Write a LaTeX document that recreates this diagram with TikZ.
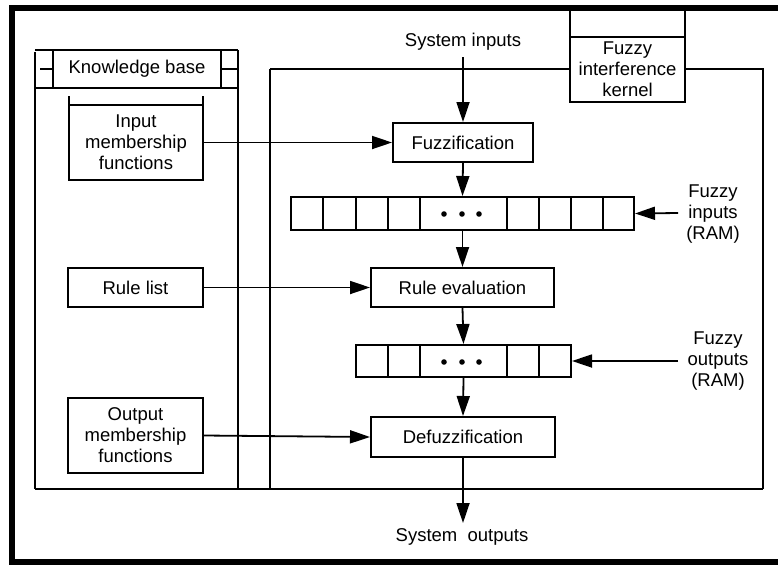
\documentclass[tikz,border=0pt]{standalone}
\usepackage{fontspec}
\setmainfont{Liberation Sans}
\usetikzlibrary{arrows.meta}
\begin{document}
\begin{tikzpicture}[x=1pt,y=-1pt,
  line width=2pt,
  every node/.style={font=\fontsize{18.5}{21}\selectfont, inner sep=0pt, align=center},
  box/.style={draw, fill=white, rectangle},
  arr/.style={line width=1.8pt, -{Triangle[length=20pt,width=13pt]}},
  thin/.style={line width=1.5pt}
]
\useasboundingbox (0,0) rectangle (778,565);
% outer border
\draw[line width=6pt] (778,8) -- (12,8) -- (12,562) -- (778,562);
% knowledge base frame
\draw (35,50) -- (238,50);
\draw (35,52) -- (35,489);
\draw (238,50) -- (238,489);
\draw (35,88) -- (238,88);
\node[box, minimum width=168pt, minimum height=38pt] (kb) at (137,69) {Knowledge base};
\draw[thin] (40,69) -- (kb.west);
\draw[thin] (kb.east) -- (238,69);
% kernel frame
\draw (270,69) -- (763,69) -- (763,489);
\draw (270,69) -- (270,489);
\draw (35,489) -- (763,489);
% kernel box
\draw (570,9) -- (570,37);
\draw (685,9) -- (685,37);
\node[box, minimum width=115pt, minimum height=65pt] (kern) at (627.5,69.5) {Fuzzy\\interference\\kernel};
% left boxes
\draw (69,96) -- (69,105);
\draw (203,96) -- (203,105);
\node[box, minimum width=134pt, minimum height=75pt] (inmf) at (136,142.5) {Input\\membership\\functions};
\node[box, minimum width=135pt, minimum height=39pt] (rule) at (135.5,287.5) {Rule list};
\node[box, minimum width=135pt, minimum height=75pt] (outmf) at (135.5,435.5) {Output\\membership\\functions};
% central column
\node (sysin) at (463,42) {System inputs};
\coordinate (sysinA) at (463,57);
\node[box, minimum width=140pt, minimum height=39pt] (fuzz) at (463,142.5) {Fuzzification};
\node[box, minimum width=343pt, minimum height=33pt] (reg1) at (462.5,213.5) {};
\foreach \x in {323,356,388,420,507,539,571,603} \draw[thin] (\x,197) -- (\x,230);
\foreach \x in {444,462,479} \fill (\x,214) circle (2.8pt);
\node[box, minimum width=183pt, minimum height=39pt] (eval) at (462.5,287.5) {Rule evaluation};
\node[box, minimum width=215pt, minimum height=32pt] (reg2) at (463.5,361) {};
\foreach \x in {388,420,507,539} \draw[thin] (\x,345) -- (\x,377);
\foreach \x in {444,462,479} \fill (\x,362) circle (2.8pt);
\node[box, minimum width=184pt, minimum height=40pt] (defuzz) at (463,437) {Defuzzification};
\coordinate (sysoutA) at (463,523);
\node (sysout) at (462,537) {System\ \ outputs};
% right labels
\node (fin) at (713,214) {Fuzzy\\inputs\\(RAM)};
\coordinate (finA) at (678,213);
\node (fout) at (718,361) {Fuzzy\\outputs\\(RAM)};
\coordinate (foutA) at (678,361);
% connectors
\draw[arr] (sysinA) -- (fuzz.north);
\draw[arr] (fuzz.south) -- (reg1.north);
\draw[arr] (reg1.south) -- (eval.north);
\draw[arr] (eval.south) -- (reg2.north);
\draw[arr] (reg2.south) -- (defuzz.north);
\draw[arr] (defuzz.south) -- (sysoutA);
\draw[arr] (inmf.east) -- (fuzz.west);
\draw[arr] (rule.east) -- (eval.west);
\draw[arr] (outmf.east) -- (defuzz.west);
\draw[arr] (finA) -- (reg1.east);
\draw[arr] (foutA) -- (reg2.east);
\end{tikzpicture}
\end{document}
